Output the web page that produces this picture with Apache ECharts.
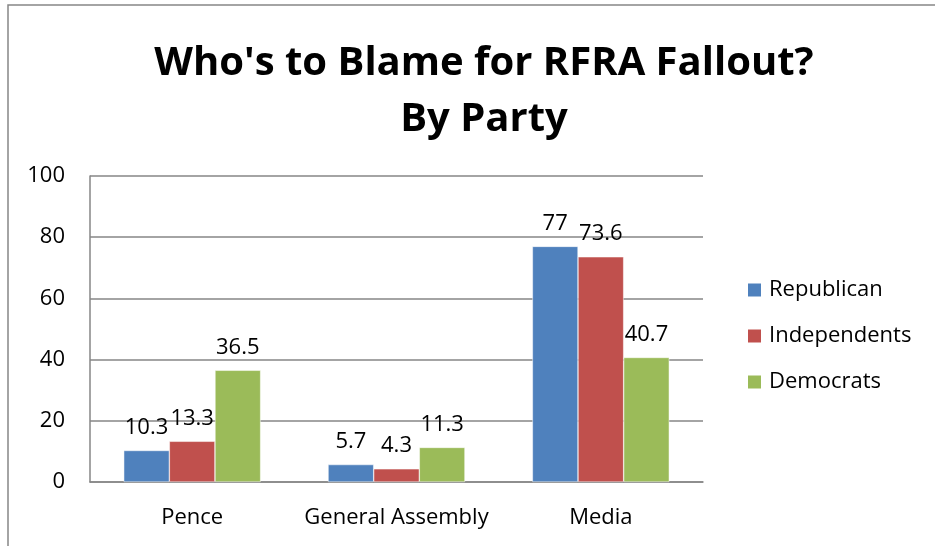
<!DOCTYPE html>
<html>
<head>
<meta charset="utf-8">
<script src="https://cdn.jsdelivr.net/npm/echarts@6/dist/echarts.min.js"></script>
<style>
  html, body { margin: 0; padding: 0; background: #fff; }
  #chart { width: 935px; height: 546px; }
</style>
</head>
<body>
<div id="chart"></div>
<script>
var categories = ['Pence', 'General Assembly', 'Media'];
var republican = [10.3, 5.7, 77];
var independents = [13.3, 4.3, 73.6];
var democrats = [36.5, 11.3, 40.7];
var seriesNames = ['Republican', 'Independents', 'Democrats'];
var colors = ['#4F81BD', '#C0504D', '#9BBB59'];

var chart = echarts.init(document.getElementById('chart'));
var font = 'Open Sans';

function barSeries(name, values, color) {
    return {
        name: name,
        type: 'bar',
        data: values,
        color: color,
        barGap: 0,
        barCategoryGap: '33%',
        itemStyle: { borderColor: '#fff', borderWidth: 0.5 },
        label: {
            show: true,
            position: 'top',
            distance: 12,
            color: '#000',
            fontFamily: font,
            fontSize: 22
        }
    };
}

var option = {
    animation: false,
    backgroundColor: '#fff',
    title: {
        text: "Who's to Blame for RFRA Fallout?\nBy Party",
        left: 479,
        textAlign: 'center',
        top: 31,
        textStyle: {
            fontFamily: font,
            fontWeight: 'bold',
            fontSize: 40,
            lineHeight: 56,
            color: '#000'
        }
    },
    legend: {
        orient: 'vertical',
        left: 746,
        top: 279,
        padding: 0,
        itemWidth: 15,
        itemHeight: 15,
        itemGap: 24,
        icon: 'rect',
        data: seriesNames,
        textStyle: { fontFamily: font, fontSize: 22, color: '#000', padding: [0, 0, 0, 2] }
    },
    grid: { left: 90, right: 232, top: 176, bottom: 64 },
    xAxis: {
        type: 'category',
        data: categories,
        axisLine: { lineStyle: { color: '#868686', width: 1.5 } },
        axisTick: { show: false },
        axisLabel: { color: '#000', fontFamily: font, fontSize: 22, margin: 25, interval: 0 }
    },
    yAxis: {
        type: 'value',
        min: 0,
        max: 100,
        interval: 20,
        axisLine: { show: true, lineStyle: { color: '#868686', width: 1.5 } },
        axisTick: { show: false },
        splitLine: { lineStyle: { color: '#868686', width: 1.5 } },
        axisLabel: { color: '#000', fontFamily: font, fontSize: 22, margin: 25 }
    },
    graphic: [{
        type: 'polyline',
        shape: { points: [[8, 546], [8, 5], [935, 5]] },
        style: { stroke: '#868686', lineWidth: 1.5, fill: null }
    }],
    series: [
        barSeries(seriesNames[0], republican, colors[0]),
        barSeries(seriesNames[1], independents, colors[1]),
        barSeries(seriesNames[2], democrats, colors[2])
    ]
};

chart.setOption(option);
</script>
</body>
</html>
